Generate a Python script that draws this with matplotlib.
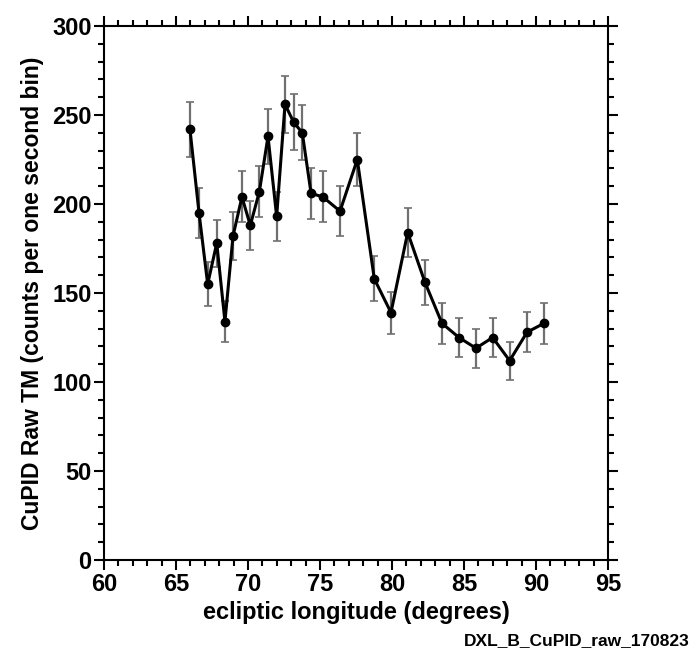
import matplotlib
matplotlib.use("Agg")
import matplotlib.pyplot as plt
from matplotlib.ticker import MultipleLocator

plt.rcParams['font.family'] = ['Liberation Sans', 'DejaVu Sans']
plt.rcParams['font.weight'] = 'bold'

# ecliptic longitude (deg), raw counts and error bars
longitude = [65.97, 66.6, 67.2, 67.83, 68.4, 68.96, 69.58, 70.16, 70.79, 71.39,
             71.99, 72.57, 73.17, 73.77, 74.38, 75.2, 76.39, 77.59, 78.77, 79.93,
             81.09, 82.29, 83.47, 84.65, 85.83, 86.99, 88.17, 89.38, 90.56]
counts = [242, 195, 155, 178, 134, 182, 204, 188, 207, 238,
          193, 256, 246, 240, 206, 204, 196, 225, 158, 139,
          184, 156, 133, 125, 119, 125, 112, 128, 133]
errors = [15.6, 14.0, 12.4, 13.3, 11.6, 13.5, 14.3, 13.7, 14.4, 15.4,
          13.9, 16.0, 15.7, 15.5, 14.3, 14.3, 14.0, 15.0, 12.6, 11.8,
          13.6, 12.5, 11.5, 11.2, 10.9, 11.2, 10.6, 11.3, 11.5]

fig = plt.figure(figsize=(6.97, 6.59), dpi=100)
ax = fig.add_axes([0.1492, 0.1502, 0.7231, 0.8103])

line, caps, bars = ax.errorbar(longitude, counts, yerr=errors, fmt='-o', color='black',
                               lw=2.2, ms=6, ecolor='#707070', elinewidth=1.6,
                               capsize=3, capthick=1.2, zorder=3)
for c in caps:
    c.set_color('#222222')

ax.set_xlim(60, 95)
ax.set_ylim(0, 300)
ax.xaxis.set_major_locator(MultipleLocator(5))
ax.xaxis.set_minor_locator(MultipleLocator(1))
ax.yaxis.set_major_locator(MultipleLocator(50))
ax.yaxis.set_minor_locator(MultipleLocator(10))
ax.tick_params(which='both', direction='out', top=True, right=True, width=1.5,
               labelsize=17, pad=2)
ax.tick_params(which='major', length=7)
ax.tick_params(which='minor', length=4)
for s in ax.spines.values():
    s.set_linewidth(1.5)

ax.set_xlabel('ecliptic longitude (degrees)', fontsize=17, fontweight='bold', labelpad=4)
ax.set_ylabel('CuPID Raw TM (counts per one second bin)', fontsize=16.5,
              fontweight='bold', labelpad=6)

fig.text(0.99, 0.028, 'DXL_B_CuPID_raw_170823', ha='right', va='center',
         fontsize=12.5, fontweight='bold')

fig.savefig('out.png', dpi=100)
